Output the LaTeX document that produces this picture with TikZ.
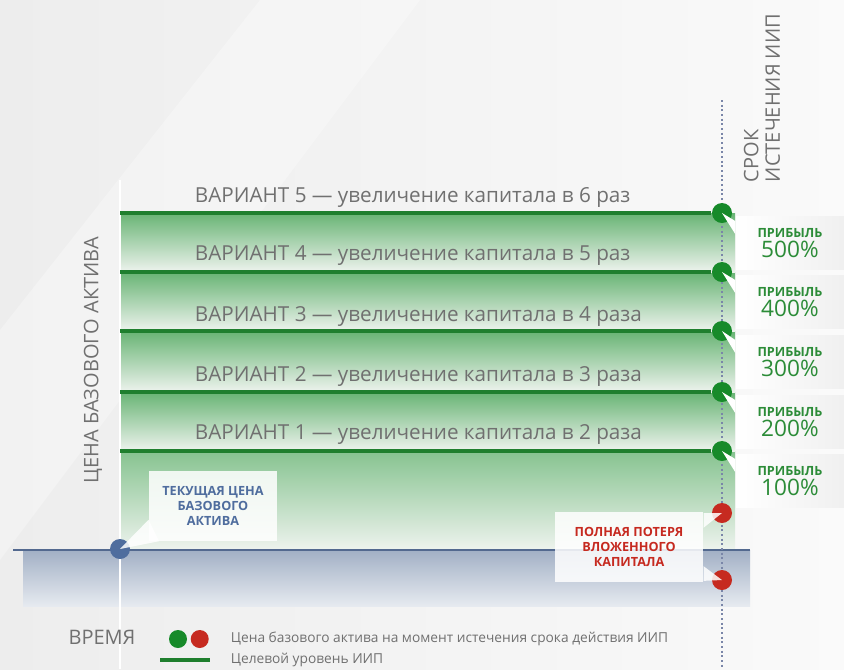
\documentclass[tikz,border=0pt]{standalone}
\usepackage{fontspec}
\setmainfont{Open Sans}
\usetikzlibrary{positioning}
\definecolor{txtgray}{HTML}{707070}
\definecolor{lvlgreen}{HTML}{1F7F2E}
\definecolor{bandgreen}{HTML}{68B474}
\definecolor{bandlight}{HTML}{EEF3EE}
\definecolor{dotgreen}{HTML}{178A2A}
\definecolor{dotred}{HTML}{C62A20}
\definecolor{dotblue}{HTML}{4F6D9E}
\definecolor{profitgreen}{HTML}{2C8C38}
\definecolor{pricegray}{HTML}{53698F}
\definecolor{bluetop}{HTML}{A2B0C5}
\definecolor{bluebottom}{HTML}{E6EAF0}
\definecolor{bggray}{HTML}{EDEDED}
\definecolor{dotline}{HTML}{7A86A8}
\newcommand{\profit}[1]{{\bfseries\fontsize{9.5}{11}\selectfont ПРИБЫЛЬ}\\[1pt]{\fontsize{17}{18}\selectfont #1\%}}
\begin{document}
\begin{tikzpicture}[x=0.75pt, y=-0.75pt, thick,
    band/.style={top color=bandgreen, bottom color=bandlight},
    level line/.style={draw=lvlgreen, line width=2.3pt},
    dot/.style={circle, inner sep=0pt, minimum size=15pt},
    variant/.style={anchor=west, text=txtgray, font=\fontsize{15.5}{17}\selectfont},
    profit box/.style={left color=white, right color=gray!12, minimum width=81pt, minimum height=40pt, inner sep=0pt, align=center, text=profitgreen},
    call box/.style={fill=white, fill opacity=0.85, text opacity=1, inner sep=0pt, align=center, font=\bfseries\fontsize{9.5}{11.5}\selectfont},
    axis label/.style={text=txtgray, font=\fontsize{15}{16}\selectfont}]
    \useasboundingbox (0,0) rectangle (844,669);
    \shade[left color=bggray, right color=gray!4] (0,0) rectangle (844,669);
    \fill[white, opacity=0.3] (0,330) -- (260,0) -- (420,0) -- (0,560) -- cycle;

    \shade[top color=bandgreen!80!white, bottom color=bandlight] (120,451) rectangle (735,550);
    \shade[band] (120,392) rectangle (735,451);
    \shade[band] (120,331) rectangle (735,392);
    \shade[band] (120,272) rectangle (735,331);
    \shade[band] (120,213) rectangle (735,272);
    \shade[top color=bluetop, bottom color=bluebottom] (23,550) rectangle (750,606);
    \draw[white, line width=2pt] (120,180) -- (120,669);
    \draw[pricegray, line width=1.8pt] (13,550) -- (750,550);
    \draw[dotline, dotted, line width=1.5pt] (722,100) -- (722,669);

    \node[axis label, rotate=90] at (93,360) (ya) {ЦЕНА БАЗОВОГО АКТИВА};
    \node[axis label, rotate=90, anchor=west, align=left] at (762,187) (ta) {СРОК\\ИСТЕЧЕНИЯ ИИП};
    \node[axis label] at (102,637) (xa) {ВРЕМЯ};

    \node[variant] at (190,197) (v5) {ВАРИАНТ 5 — увеличение капитала в 6 раз};
    \node[variant] at (190,256) (v4) {ВАРИАНТ 4 — увеличение капитала в 5 раз};
    \node[variant] at (190,316) (v3) {ВАРИАНТ 3 — увеличение капитала в 4 раза};
    \node[variant] at (190,376) (v2) {ВАРИАНТ 2 — увеличение капитала в 3 раза};
    \node[variant] at (190,434) (v1) {ВАРИАНТ 1 — увеличение капитала в 2 раза};

    \node[dot, fill=dotgreen] at (722,213) (g5) {};
    \node[dot, fill=dotgreen] at (722,272) (g4) {};
    \node[dot, fill=dotgreen] at (722,331) (g3) {};
    \node[dot, fill=dotgreen] at (722,392) (g2) {};
    \node[dot, fill=dotgreen] at (722,451) (g1) {};
    \node[dot, fill=dotred] at (722,513) (r1) {};
    \node[dot, fill=dotred] at (722,580) (r2) {};
    \node[dot, fill=dotblue] at (120,549) (bd) {};

    \draw[level line] (120,213) -- (g5);
    \draw[level line] (120,272) -- (g4);
    \draw[level line] (120,331) -- (g3);
    \draw[level line] (120,392) -- (g2);
    \draw[level line] (120,451) -- (g1);

    \node[profit box] at (790,243) (p5) {\profit{500}};
    \node[profit box] at (790,302) (p4) {\profit{400}};
    \node[profit box] at (790,362) (p3) {\profit{300}};
    \node[profit box] at (790,422) (p2) {\profit{200}};
    \node[profit box] at (790,481) (p1) {\profit{100}};

    \fill[white] ([yshift=-4pt]p5.north west) -- (g5.center) -- ([yshift=-14pt]p5.north west) -- cycle;
    \fill[white] ([yshift=-4pt]p4.north west) -- (g4.center) -- ([yshift=-14pt]p4.north west) -- cycle;
    \fill[white] ([yshift=-4pt]p3.north west) -- (g3.center) -- ([yshift=-14pt]p3.north west) -- cycle;
    \fill[white] ([yshift=-4pt]p2.north west) -- (g2.center) -- ([yshift=-14pt]p2.north west) -- cycle;
    \fill[white] ([yshift=-4pt]p1.north west) -- (g1.center) -- ([yshift=-14pt]p1.north west) -- cycle;

    \node[call box, text=dotblue, minimum width=96pt, minimum height=52pt] at (213,506) (b) {ТЕКУЩАЯ ЦЕНА\\БАЗОВОГО\\АКТИВА};
    \fill[white, opacity=0.85] ([yshift=16pt]b.south west) -- (bd.center) -- ([xshift=8pt]b.south west) -- cycle;

    \node[call box, text=dotred, minimum width=111pt, minimum height=52pt] at (629,547) (r) {ПОЛНАЯ ПОТЕРЯ\\ВЛОЖЕННОГО\\КАПИТАЛА};
    \fill[white, opacity=0.85] ([yshift=-1pt]r.north east) -- (r1.center) -- ([yshift=-12pt]r.north east) -- cycle;
    \fill[white, opacity=0.85] ([yshift=12pt]r.south east) -- (r2.center) -- ([yshift=1pt]r.south east) -- cycle;

    \node[dot, fill=dotgreen, minimum size=13.5pt] at (178,639) (lg) {};
    \node[dot, fill=dotred, minimum size=13.5pt, right=2pt of lg] (lr) {};
    \node[anchor=west, text=txtgray, font=\fontsize{10.3}{12}\selectfont] at (226,639) (lt1) {Цена базового актива на момент истечения срока действия ИИП};
    \coordinate (la) at (160,660);
    \coordinate (lb) at (210,660);
    \draw[level line] (la) -- (lb);
    \node[anchor=west, text=txtgray, font=\fontsize{10.3}{12}\selectfont] at (226,660) (lt2) {Целевой уровень ИИП};
\end{tikzpicture}
\end{document}
